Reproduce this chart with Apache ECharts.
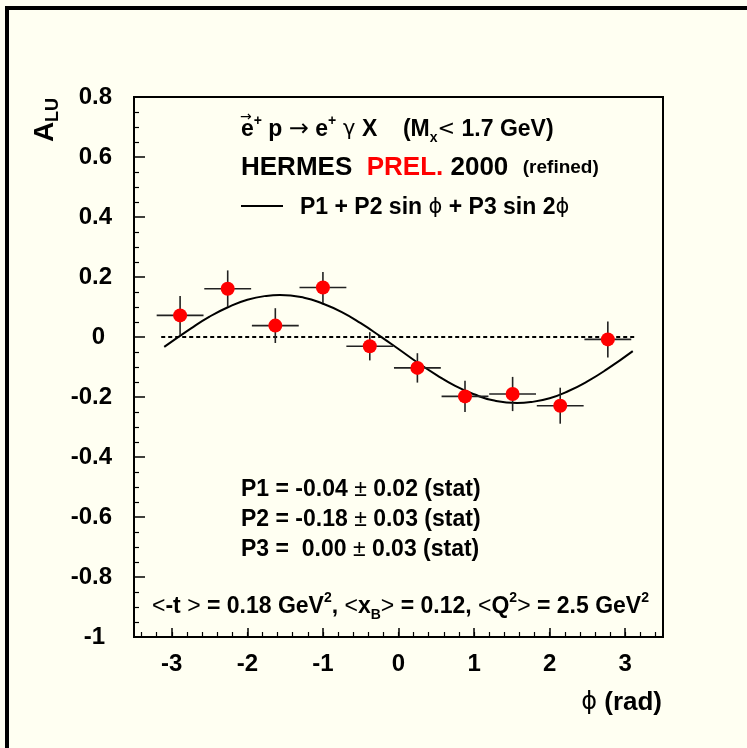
<!DOCTYPE html>
<html>
<head>
<meta charset="utf-8">
<script src="https://cdn.jsdelivr.net/npm/echarts@6/dist/echarts.min.js"></script>
<style>
html,body{margin:0;padding:0;background:#fffff2;}
#main{width:747px;height:748px;}
</style>
</head>
<body>
<div id="main"></div>
<script>
// ---- data ----
var phiCenters   = [-2.89, -2.26, -1.63, -1.00, -0.38, 0.25, 0.88, 1.51, 2.14, 2.77];
var aluValues    = [0.072, 0.161, 0.038, 0.165, -0.031, -0.103, -0.198, -0.190, -0.229, -0.008];
var aluErrors    = [0.065, 0.061, 0.058, 0.052, 0.047, 0.049, 0.052, 0.057, 0.060, 0.060];
var phiHalfWidth = [0.31, 0.31, 0.31, 0.31, 0.31, 0.31, 0.31, 0.31, 0.31, 0.31];

// fit curve P1 + P2 sin(phi) + P3 sin(2phi)
var curvePhi = [-3.10, -2.75, -2.50, -2.25, -2.00, -1.75, -1.57, -1.25, -1.00, -0.75, -0.50, -0.25, 0.00,
                0.25, 0.50, 0.75, 1.00, 1.25, 1.57, 1.75, 2.00, 2.25, 2.50, 2.75, 3.10];
var curveAlu = [-0.033, 0.028, 0.068, 0.100, 0.124, 0.137, 0.140, 0.131, 0.111, 0.083, 0.046, 0.004, -0.040,
                -0.085, -0.126, -0.163, -0.191, -0.211, -0.220, -0.217, -0.204, -0.180, -0.148, -0.109, -0.047];

var zeroLinePhi = [-3.14, 3.14];
var zeroLineAlu = [0, 0];

var xMajorTicks = [-3, -2, -1, 0, 1, 2, 3];
var xMinorTicks = [-3.4, -3.2, -3.0, -2.8, -2.6, -2.4, -2.2, -2.0, -1.8, -1.6, -1.4, -1.2, -1.0, -0.8, -0.6, -0.4, -0.2,
                   0, 0.2, 0.4, 0.6, 0.8, 1.0, 1.2, 1.4, 1.6, 1.8, 2.0, 2.2, 2.4, 2.6, 2.8, 3.0, 3.2, 3.4];
var xRange = [-3.5, 3.5];
var yRange = [-1, 0.8];
var yStep = 0.2;

// ---- build ----
var FF = '"Liberation Sans", Arial, Helvetica, sans-serif';
var SF = '"DejaVu Sans", sans-serif';
var PHI = '\u03d5';
var pointData = phiCenters.map(function (p, i) { return [p, aluValues[i]]; });
var errData = phiCenters.map(function (p, i) { return [p, aluValues[i], phiHalfWidth[i], aluErrors[i]]; });
var curveData = curvePhi.map(function (p, i) { return [p, curveAlu[i]]; });
var zeroData = zeroLinePhi.map(function (p, i) { return [p, zeroLineAlu[i]]; });

var chart = echarts.init(document.getElementById('main'), null, {renderer: 'canvas'});

function richBase(size) {
  return {
    b: {fontFamily: FF, fontWeight: 'bold', fontSize: size, fill: '#000', lineHeight: size + 8},
    s: {fontFamily: FF, fontWeight: 'normal', fontSize: size, fill: '#000', lineHeight: size + 8},
    g: {fontFamily: SF, fontWeight: 'normal', fontSize: size - 2, fill: '#000', lineHeight: size + 8},
    sp: {fontFamily: FF, fontWeight: 'bold', fontSize: Math.round(size * 0.62), fill: '#000', verticalAlign: 'top'},
    sub: {fontFamily: FF, fontWeight: 'bold', fontSize: Math.round(size * 0.62), fill: '#000', verticalAlign: 'bottom'}
  };
}

var option = {
  backgroundColor: '#fffff2',
  animation: false,
  grid: {left: 134, right: 84, top: 97, bottom: 111, show: true, borderColor: '#000', borderWidth: 2, backgroundColor: 'transparent'},
  xAxis: [{
    type: 'value', min: xRange[0], max: xRange[1],
    axisLine: {show: true, onZero: false, lineStyle: {color: '#000', width: 2}},
    axisTick: {show: true, inside: true, length: 9, customValues: xMajorTicks, lineStyle: {color: '#000', width: 1.5}},
    axisLabel: {show: true, customValues: xMajorTicks, margin: 15, color: '#000', fontFamily: FF, fontWeight: 'bold', fontSize: 24},
    splitLine: {show: false}
  }, {
    type: 'value', min: xRange[0], max: xRange[1], position: 'bottom', offset: 0,
    axisLine: {show: false, onZero: false},
    axisTick: {show: true, inside: true, length: 5, customValues: xMinorTicks, lineStyle: {color: '#000', width: 1.2}},
    axisLabel: {show: false},
    splitLine: {show: false}
  }],
  yAxis: {
    type: 'value', min: yRange[0], max: yRange[1], interval: yStep,
    axisLine: {show: true, onZero: false, lineStyle: {color: '#000', width: 2}},
    axisTick: {show: true, inside: true, length: 11, lineStyle: {color: '#000', width: 1.5}},
    minorTick: {show: true, splitNumber: 4, length: 5, lineStyle: {color: '#000', width: 1.2}},
    axisLabel: {
      margin: 22, color: '#000', fontFamily: FF, fontWeight: 'bold', fontSize: 24,
      formatter: function (v) {
        var r = Math.round(v * 10) / 10;
        var s = String(r);
        return (Math.abs(r - Math.round(r)) < 1e-6) ? '{n|' + s + '}' : '{p|' + s + '}';
      },
      rich: {
        p: {fontFamily: FF, fontWeight: 'bold', fontSize: 24, color: '#000'},
        n: {fontFamily: FF, fontWeight: 'bold', fontSize: 24, color: '#000', padding: [0, 7, 0, 0]}
      }
    },
    splitLine: {show: false}
  },
  series: [
    {
      type: 'line', data: zeroData, showSymbol: false, silent: true, z: 2,
      lineStyle: {color: '#000', width: 2, type: [4, 3]}
    },
    {
      type: 'line', data: curveData, smooth: true, showSymbol: false, silent: true, z: 3,
      lineStyle: {color: '#000', width: 2}
    },
    {
      type: 'custom', data: errData, z: 4, silent: true,
      encode: {x: 0, y: 1},
      renderItem: function (params, api) {
        var x = api.value(0), y = api.value(1), xe = api.value(2), ye = api.value(3);
        var a = api.coord([x - xe, y]), b = api.coord([x + xe, y]);
        var c = api.coord([x, y - ye]), d = api.coord([x, y + ye]);
        var st = {stroke: '#222', lineWidth: 1.6};
        return {type: 'group', children: [
          {type: 'line', shape: {x1: a[0], y1: a[1], x2: b[0], y2: b[1]}, style: st},
          {type: 'line', shape: {x1: c[0], y1: c[1], x2: d[0], y2: d[1]}, style: st}
        ]};
      }
    },
    {
      type: 'scatter', data: pointData, symbol: 'circle', symbolSize: 14, z: 5,
      itemStyle: {color: '#ff0000', opacity: 1}
    }
  ],
  graphic: [
    {type: 'rect', silent: true, shape: {x: 7, y: 8, width: 800, height: 800}, style: {fill: 'none', stroke: '#000', lineWidth: 4}},
    // Y title
    {type: 'text', x: 45, y: 120, rotation: Math.PI / 2, style: {
      text: '{a|A}{l|LU}', textAlign: 'center', textVerticalAlign: 'middle',
      rich: {a: {fontFamily: FF, fontWeight: 'bold', fontSize: 28, fill: '#000', lineHeight: 34},
             l: {fontFamily: FF, fontWeight: 'bold', fontSize: 18, fill: '#000', verticalAlign: 'bottom'}}
    }},
    // X title
    {type: 'text', x: 662, y: 703, style: {
      text: '{s|' + PHI + '}{b| (rad)}', textAlign: 'right', textVerticalAlign: 'middle',
      rich: {b: {fontFamily: FF, fontWeight: 'bold', fontSize: 26, fill: '#000'}, s: {fontFamily: SF, fontSize: 24, fill: '#000'}}
    }},
    // line 1
    {type: 'text', x: 241, y: 130, style: {
      text: '{b|e}{sp|+}{b| p }{ar|\u2192}{b| e}{sp|+}{g| \u03b3 }{b|X    (M}{sub|x}{g|<}{b| 1.7 GeV)}',
      textAlign: 'left', textVerticalAlign: 'middle',
      rich: Object.assign(richBase(23), {ar: {fontFamily: SF, fontSize: 24, fill: '#000', lineHeight: 31}})
    }},
    {type: 'text', x: 240, y: 117, style: {text: '\u2192', fontFamily: SF, fontSize: 14, fill: '#000', textAlign: 'left', textVerticalAlign: 'middle'}},
    // line 2
    {type: 'text', x: 241, y: 168, style: {
      text: '{h|HERMES  }{r|PREL.}{h| 2000  }{f|(refined)}', textAlign: 'left', textVerticalAlign: 'middle',
      rich: {h: {fontFamily: FF, fontWeight: 'bold', fontSize: 26, fill: '#000'},
             r: {fontFamily: FF, fontWeight: 'bold', fontSize: 26, fill: '#ff0000'},
             f: {fontFamily: FF, fontWeight: 'bold', fontSize: 19, fill: '#000'}}
    }},
    // legend line
    {type: 'line', silent: true, shape: {x1: 241, y1: 206, x2: 283, y2: 206}, style: {stroke: '#000', lineWidth: 2}},
    {type: 'text', x: 300, y: 208, style: {
      text: '{b|P1 + P2 sin }{g|' + PHI + '}{b| + P3 sin 2}{g|' + PHI + '}', textAlign: 'left', textVerticalAlign: 'middle', rich: richBase(23)
    }},
    // params
    {type: 'text', x: 241, y: 490, style: {text: '{b|P1 = -0.04 }{s|\u00b1}{b| 0.02 (stat)}', textAlign: 'left', textVerticalAlign: 'middle', rich: richBase(23)}},
    {type: 'text', x: 241, y: 520, style: {text: '{b|P2 = -0.18 }{s|\u00b1}{b| 0.03 (stat)}', textAlign: 'left', textVerticalAlign: 'middle', rich: richBase(23)}},
    {type: 'text', x: 241, y: 550, style: {text: '{b|P3 =  0.00 }{s|\u00b1}{b| 0.03 (stat)}', textAlign: 'left', textVerticalAlign: 'middle', rich: richBase(23)}},
    // kinematics
    {type: 'text', x: 152, y: 607, style: {
      text: '{s|<}{b|-t }{s|>}{b| = 0.18 GeV}{sp|2}{b|, }{s|<}{b|x}{sub|B}{s|>}{b| = 0.12, }{s|<}{b|Q}{sp|2}{s|>}{b| = 2.5 GeV}{sp|2}',
      textAlign: 'left', textVerticalAlign: 'middle', rich: richBase(23)
    }}
  ]
};
chart.setOption(option);
</script>
</body>
</html>
